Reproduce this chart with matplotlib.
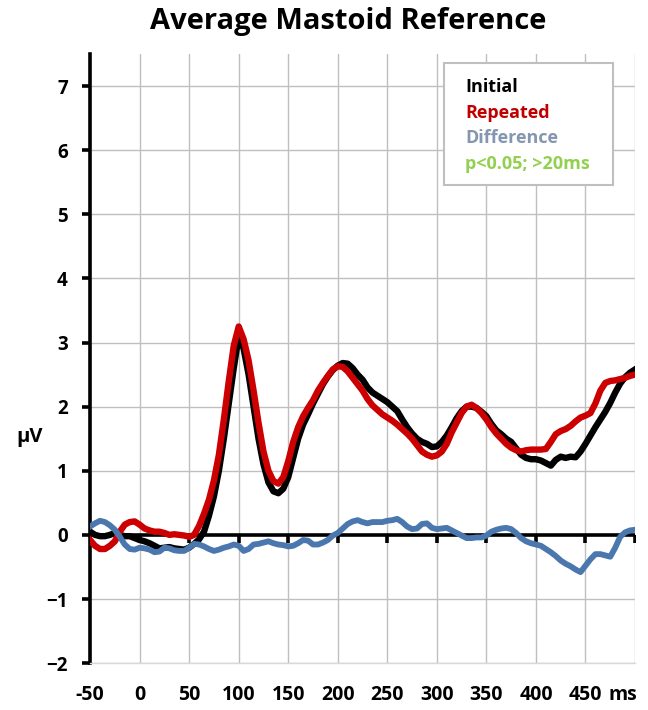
import matplotlib
matplotlib.use('Agg')
import matplotlib.pyplot as plt
from matplotlib.transforms import ScaledTranslation
import numpy as np

plt.rcParams['font.family'] = ['Open Sans', 'DejaVu Sans']
plt.rcParams['font.weight'] = 'bold'

# time axis (ms), one sample every 5 ms
t = np.arange(-50, 505, 5)

initial = [0.05, 0.0, -0.02, -0.02, 0.0, 0.03, 0.0, -0.02, -0.02, -0.05,
           -0.08, -0.1, -0.13, -0.17, -0.21, -0.2, -0.19, -0.21, -0.22, -0.23,
           -0.2, -0.14, -0.07, 0.05, 0.3, 0.6, 1.0, 1.5, 2.05, 2.6,
           3.1, 2.9, 2.5, 2.0, 1.5, 1.1, 0.82, 0.68, 0.65, 0.72,
           0.9, 1.2, 1.5, 1.72, 1.88, 2.05, 2.2, 2.35, 2.47, 2.57,
           2.64, 2.68, 2.67, 2.6, 2.5, 2.42, 2.3, 2.22, 2.17, 2.12,
           2.07, 2.0, 1.93, 1.8, 1.68, 1.58, 1.5, 1.45, 1.42, 1.37,
           1.38, 1.45, 1.55, 1.68, 1.82, 1.93, 2.0, 2.0, 1.98, 1.92,
           1.85, 1.73, 1.63, 1.57, 1.5, 1.45, 1.35, 1.25, 1.2, 1.18,
           1.18, 1.16, 1.12, 1.08, 1.17, 1.22, 1.2, 1.22, 1.21, 1.3,
           1.42, 1.55, 1.68, 1.8, 1.92, 2.06, 2.22, 2.36, 2.46, 2.53,
           2.58]

repeated = [-0.08, -0.17, -0.22, -0.22, -0.17, -0.1, 0.05, 0.16, 0.2, 0.21,
            0.16, 0.1, 0.07, 0.05, 0.05, 0.03, 0.0, 0.01, 0.0, -0.01,
            -0.03, 0.0, 0.14, 0.33, 0.55, 0.85, 1.25, 1.8, 2.4, 2.95,
            3.25, 3.05, 2.72, 2.25, 1.75, 1.3, 1.0, 0.84, 0.8, 0.9,
            1.15, 1.45, 1.68, 1.85, 1.98, 2.1, 2.25, 2.37, 2.48, 2.58,
            2.63, 2.62, 2.55, 2.45, 2.35, 2.25, 2.12, 2.02, 1.95, 1.88,
            1.83, 1.78, 1.72, 1.65, 1.58, 1.5, 1.4, 1.3, 1.25, 1.22,
            1.24, 1.3, 1.42, 1.6, 1.75, 1.9, 2.0, 2.03, 1.98, 1.9,
            1.8, 1.68, 1.58, 1.5, 1.42, 1.36, 1.32, 1.3, 1.32, 1.33,
            1.33, 1.33, 1.34, 1.45, 1.57, 1.62, 1.65, 1.7, 1.77, 1.83,
            1.86, 1.9, 2.05, 2.25, 2.37, 2.4, 2.41, 2.43, 2.45, 2.48,
            2.5]

difference = [0.13, 0.18, 0.22, 0.2, 0.15, 0.08, -0.03, -0.15, -0.22, -0.23,
              -0.2, -0.21, -0.23, -0.27, -0.26, -0.2, -0.21, -0.24, -0.25, -0.25,
              -0.2, -0.14, -0.15, -0.18, -0.22, -0.25, -0.23, -0.2, -0.18, -0.15,
              -0.17, -0.25, -0.22, -0.15, -0.14, -0.12, -0.1, -0.13, -0.15, -0.16,
              -0.18, -0.17, -0.13, -0.08, -0.09, -0.15, -0.15, -0.12, -0.08, -0.01,
              0.03, 0.1, 0.17, 0.21, 0.23, 0.2, 0.18, 0.2, 0.2, 0.2,
              0.22, 0.23, 0.25, 0.2, 0.13, 0.09, 0.1, 0.17, 0.18, 0.11,
              0.09, 0.1, 0.11, 0.07, 0.03, -0.01, -0.05, -0.05, -0.04, -0.04,
              -0.01, 0.05, 0.08, 0.1, 0.11, 0.09, 0.03, -0.05, -0.1, -0.13,
              -0.15, -0.17, -0.22, -0.27, -0.33, -0.4, -0.45, -0.49, -0.54, -0.58,
              -0.48, -0.38, -0.3, -0.3, -0.32, -0.34, -0.2, -0.03, 0.04, 0.07,
              0.08]

xticks = list(range(-50, 501, 50))
xlabels = [str(v) for v in xticks[:-1]] + ['ms']
yticks = list(range(-2, 8))

legend_items = ['Initial', 'Repeated', 'Difference', 'p<0.05; >20ms']
legend_colors = ['#000000', '#C00000', '#8497B0', '#92D050']

fig = plt.figure(figsize=(6.48, 7.10), dpi=100)
ax = fig.add_axes([0.139, 0.066, 0.841, 0.858])

ax.set_xlim(-50, 500)
ax.set_ylim(-2, 7.5)
ax.set_xticks(xticks)
ax.set_xticklabels(xlabels)
ax.set_yticks(yticks)
ax.grid(True, color='#BFBFBF', lw=1.0)
ax.set_axisbelow(True)

for s in ['top', 'right']:
    ax.spines[s].set_visible(False)
ax.spines['bottom'].set_color('#D9D9D9')
ax.spines['bottom'].set_linewidth(1.0)
ax.spines['left'].set_linewidth(2.6)
ax.tick_params(axis='x', length=0, pad=16, labelsize=14)
ax.tick_params(axis='y', length=6, width=2.6, pad=10, labelsize=13.5)

# "ms" sits right after 450
ms_lab = ax.get_xticklabels()[-1]
ms_lab.set_transform(ms_lab.get_transform() +
                     ScaledTranslation(-0.12, 0, fig.dpi_scale_trans))

# zero line with downward ticks
ax.axhline(0, color='black', lw=2.6, zorder=2)
ax.plot(xticks, [0] * len(xticks), ls='none', marker=3, ms=6, mew=2.6,
        color='black', zorder=2)

ax.plot(t, initial, color='black', lw=4.6, zorder=3)
ax.plot(t, repeated, color='#CC0000', lw=4.6, zorder=4)
ax.plot(t, difference, color='#4A78AE', lw=4.2, zorder=5)

fig.text(0.026, 1 - 437 / 710, 'µV', fontsize=14.5, ha='left', va='center')
fig.text(0.538, 1 - 22 / 710, 'Average Mastoid Reference', fontsize=21,
         ha='center', va='center')

# legend box
box = plt.Rectangle((444 / 648, 1 - 185 / 710), 169 / 648, 122 / 710,
                    transform=fig.transFigure, facecolor='white',
                    edgecolor='#BFBFBF', lw=1.5, zorder=10)
fig.patches.append(box)
for i, (lab, col) in enumerate(zip(legend_items, legend_colors)):
    fig.text(465 / 648, 1 - (87 + 25.6 * i) / 710, lab, color=col,
             fontsize=13, ha='left', va='center', zorder=11)

plt.savefig('out.png', dpi=100)
